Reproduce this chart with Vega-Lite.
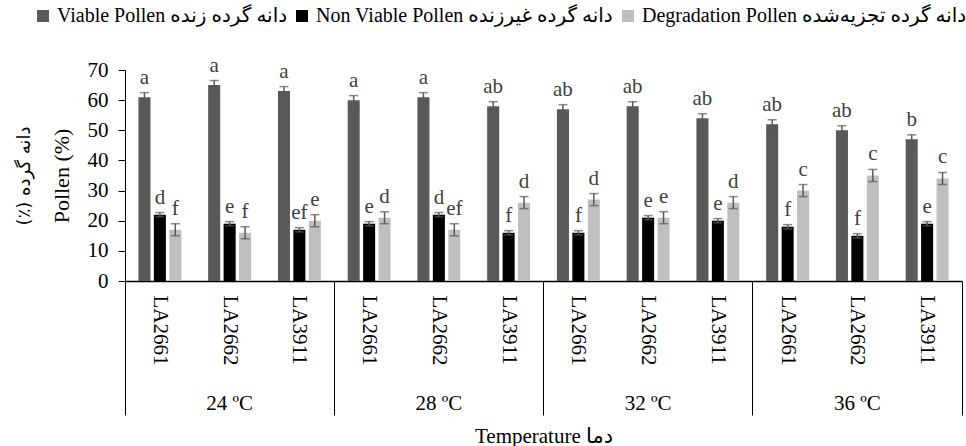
{
  "$schema": "https://vega.github.io/schema/vega-lite/v6.json",
  "width": 837,
  "height": 211,
  "autosize": {"type": "none"},
  "padding": {"left": 125, "top": 70, "right": 4, "bottom": 165},
  "background": "white",
  "config": {
    "view": {"stroke": null},
    "font": "Liberation Serif",
    "axis": {"labelFont": "Liberation Serif", "titleFont": "Liberation Serif", "labelColor": "#000", "titleColor": "#000", "titleFontWeight": "normal", "grid": false},
    "legend": {"labelFont": "Liberation Serif, DejaVu Sans", "labelColor": "#000"}
  },
  "data": {"values": [
    {"cell": "24 ºC|LA2661", "series": "Viable Pollen دانه گرده زنده", "value": 61, "lo": 59.5, "hi": 62.5, "letter": "a"},
    {"cell": "24 ºC|LA2661", "series": "Non Viable Pollen دانه گرده غیرزنده", "value": 22, "lo": 21.3, "hi": 22.7, "letter": "d"},
    {"cell": "24 ºC|LA2661", "series": "Degradation Pollen دانه گرده تجزیه‌شده", "value": 17, "lo": 15, "hi": 19, "letter": "f"},
    {"cell": "24 ºC|LA2662", "series": "Viable Pollen دانه گرده زنده", "value": 65, "lo": 63.5, "hi": 66.5, "letter": "a"},
    {"cell": "24 ºC|LA2662", "series": "Non Viable Pollen دانه گرده غیرزنده", "value": 19, "lo": 18.3, "hi": 19.7, "letter": "e"},
    {"cell": "24 ºC|LA2662", "series": "Degradation Pollen دانه گرده تجزیه‌شده", "value": 16, "lo": 14, "hi": 18, "letter": "f"},
    {"cell": "24 ºC|LA3911", "series": "Viable Pollen دانه گرده زنده", "value": 63, "lo": 61.5, "hi": 64.5, "letter": "a"},
    {"cell": "24 ºC|LA3911", "series": "Non Viable Pollen دانه گرده غیرزنده", "value": 17, "lo": 16.3, "hi": 17.7, "letter": "ef"},
    {"cell": "24 ºC|LA3911", "series": "Degradation Pollen دانه گرده تجزیه‌شده", "value": 20, "lo": 18, "hi": 22, "letter": "e"},
    {"cell": "28 ºC|LA2661", "series": "Viable Pollen دانه گرده زنده", "value": 60, "lo": 58.5, "hi": 61.5, "letter": "a"},
    {"cell": "28 ºC|LA2661", "series": "Non Viable Pollen دانه گرده غیرزنده", "value": 19, "lo": 18.3, "hi": 19.7, "letter": "e"},
    {"cell": "28 ºC|LA2661", "series": "Degradation Pollen دانه گرده تجزیه‌شده", "value": 21, "lo": 19, "hi": 23, "letter": "d"},
    {"cell": "28 ºC|LA2662", "series": "Viable Pollen دانه گرده زنده", "value": 61, "lo": 59.5, "hi": 62.5, "letter": "a"},
    {"cell": "28 ºC|LA2662", "series": "Non Viable Pollen دانه گرده غیرزنده", "value": 22, "lo": 21.3, "hi": 22.7, "letter": "d"},
    {"cell": "28 ºC|LA2662", "series": "Degradation Pollen دانه گرده تجزیه‌شده", "value": 17, "lo": 15, "hi": 19, "letter": "ef"},
    {"cell": "28 ºC|LA3911", "series": "Viable Pollen دانه گرده زنده", "value": 58, "lo": 56.5, "hi": 59.5, "letter": "ab"},
    {"cell": "28 ºC|LA3911", "series": "Non Viable Pollen دانه گرده غیرزنده", "value": 16, "lo": 15.3, "hi": 16.7, "letter": "f"},
    {"cell": "28 ºC|LA3911", "series": "Degradation Pollen دانه گرده تجزیه‌شده", "value": 26, "lo": 24, "hi": 28, "letter": "d"},
    {"cell": "32 ºC|LA2661", "series": "Viable Pollen دانه گرده زنده", "value": 57, "lo": 55.5, "hi": 58.5, "letter": "ab"},
    {"cell": "32 ºC|LA2661", "series": "Non Viable Pollen دانه گرده غیرزنده", "value": 16, "lo": 15.3, "hi": 16.7, "letter": "f"},
    {"cell": "32 ºC|LA2661", "series": "Degradation Pollen دانه گرده تجزیه‌شده", "value": 27, "lo": 25, "hi": 29, "letter": "d"},
    {"cell": "32 ºC|LA2662", "series": "Viable Pollen دانه گرده زنده", "value": 58, "lo": 56.5, "hi": 59.5, "letter": "ab"},
    {"cell": "32 ºC|LA2662", "series": "Non Viable Pollen دانه گرده غیرزنده", "value": 21, "lo": 20.3, "hi": 21.7, "letter": "e"},
    {"cell": "32 ºC|LA2662", "series": "Degradation Pollen دانه گرده تجزیه‌شده", "value": 21, "lo": 19, "hi": 23, "letter": "e"},
    {"cell": "32 ºC|LA3911", "series": "Viable Pollen دانه گرده زنده", "value": 54, "lo": 52.5, "hi": 55.5, "letter": "ab"},
    {"cell": "32 ºC|LA3911", "series": "Non Viable Pollen دانه گرده غیرزنده", "value": 20, "lo": 19.3, "hi": 20.7, "letter": "e"},
    {"cell": "32 ºC|LA3911", "series": "Degradation Pollen دانه گرده تجزیه‌شده", "value": 26, "lo": 24, "hi": 28, "letter": "d"},
    {"cell": "36 ºC|LA2661", "series": "Viable Pollen دانه گرده زنده", "value": 52, "lo": 50.5, "hi": 53.5, "letter": "ab"},
    {"cell": "36 ºC|LA2661", "series": "Non Viable Pollen دانه گرده غیرزنده", "value": 18, "lo": 17.3, "hi": 18.7, "letter": "f"},
    {"cell": "36 ºC|LA2661", "series": "Degradation Pollen دانه گرده تجزیه‌شده", "value": 30, "lo": 28, "hi": 32, "letter": "c"},
    {"cell": "36 ºC|LA2662", "series": "Viable Pollen دانه گرده زنده", "value": 50, "lo": 48.5, "hi": 51.5, "letter": "ab"},
    {"cell": "36 ºC|LA2662", "series": "Non Viable Pollen دانه گرده غیرزنده", "value": 15, "lo": 14.3, "hi": 15.7, "letter": "f"},
    {"cell": "36 ºC|LA2662", "series": "Degradation Pollen دانه گرده تجزیه‌شده", "value": 35, "lo": 33, "hi": 37, "letter": "c"},
    {"cell": "36 ºC|LA3911", "series": "Viable Pollen دانه گرده زنده", "value": 47, "lo": 45.5, "hi": 48.5, "letter": "b"},
    {"cell": "36 ºC|LA3911", "series": "Non Viable Pollen دانه گرده غیرزنده", "value": 19, "lo": 18.3, "hi": 19.7, "letter": "e"},
    {"cell": "36 ºC|LA3911", "series": "Degradation Pollen دانه گرده تجزیه‌شده", "value": 34, "lo": 32, "hi": 36, "letter": "c"}
  ]},
  "layer": [
    {
      "mark": {"type": "bar"},
      "encoding": {
        "x": {"field": "cell", "type": "nominal", "sort": null, "scale": {"paddingInner": 0, "paddingOuter": 0},
          "axis": {"orient": "bottom", "title": null, "labelExpr": "split(datum.value,'|')[1]", "labelFont": "Liberation Serif", "labelAngle": 90, "labelAlign": "left", "labelBaseline": "middle", "labelPadding": 14, "labelFontSize": 21, "ticks": false, "domainColor": "#000", "domainWidth": 1.5}},
        "xOffset": {"field": "series", "type": "nominal", "sort": ["Viable Pollen دانه گرده زنده", "Non Viable Pollen دانه گرده غیرزنده", "Degradation Pollen دانه گرده تجزیه‌شده"], "scale": {"paddingInner": 0.22, "paddingOuter": 0.87}},
        "y": {"field": "value", "type": "quantitative", "scale": {"domain": [0, 70]},
          "axis": {"orient": "left", "values": [0, 10, 20, 30, 40, 50, 60, 70], "title": "Pollen (%)", "titleFont": "Liberation Serif", "labelFont": "Liberation Serif", "titleFontSize": 22, "labelFontSize": 21, "tickSize": 7, "tickColor": "#000", "domainColor": "#000", "labelPadding": 10, "titlePadding": 14}},
        "color": {"field": "series", "type": "nominal",
          "scale": {"domain": ["Viable Pollen دانه گرده زنده", "Non Viable Pollen دانه گرده غیرزنده", "Degradation Pollen دانه گرده تجزیه‌شده"], "range": ["#595959", "#000000", "#bfbfbf"]},
          "legend": {"orient": "none", "legendX": -92, "legendY": -64, "direction": "horizontal", "title": null, "symbolType": "square", "symbolSize": 144, "symbolStrokeWidth": 0, "labelFont": "Liberation Serif, DejaVu Sans", "labelFontSize": 20, "labelOffset": 4, "columnPadding": 4, "labelLimit": 500, "padding": 0}}
      }
    },
    {
      "mark": {"type": "rule", "color": "#595959", "strokeWidth": 1.5},
      "encoding": {
        "x": {"field": "cell", "type": "nominal", "sort": null,
          "axis": {"orient": "bottom", "values": ["24 ºC|LA2662", "28 ºC|LA2662", "32 ºC|LA2662", "36 ºC|LA2662"], "labelExpr": "split(datum.value,'|')[0]", "labelFont": "Liberation Serif", "titleFont": "Liberation Serif, DejaVu Sans", "labelAngle": 0, "labelAlign": "center", "labelBaseline": "top", "labelPadding": 111, "labelFontSize": 21, "ticks": false, "domain": false, "title": "Temperature دما", "titleFontSize": 21, "titlePadding": 12}},
        "xOffset": {"field": "series", "type": "nominal", "sort": ["Viable Pollen دانه گرده زنده", "Non Viable Pollen دانه گرده غیرزنده", "Degradation Pollen دانه گرده تجزیه‌شده"]},
        "y": {"field": "lo", "type": "quantitative",
          "axis": {"orient": "left", "title": "(٪) دانه گرده", "titleFont": "DejaVu Sans", "titleFontSize": 18, "labels": false, "ticks": false, "domain": false, "titlePadding": 92}},
        "y2": {"field": "hi"}
      }
    },
    {
      "mark": {"type": "tick", "color": "#595959", "thickness": 1.5, "size": 9},
      "encoding": {
        "x": {"field": "cell", "type": "nominal", "sort": null,
          "axis": {"orient": "bottom", "values": ["24 ºC|LA2661", "28 ºC|LA2661", "32 ºC|LA2661", "36 ºC|LA2661"], "bandPosition": 0, "labels": false, "domain": false, "ticks": true, "tickSize": 134, "tickColor": "#000", "tickWidth": 1, "title": null}},
        "xOffset": {"field": "series", "type": "nominal", "sort": ["Viable Pollen دانه گرده زنده", "Non Viable Pollen دانه گرده غیرزنده", "Degradation Pollen دانه گرده تجزیه‌شده"]},
        "y": {"field": "lo", "type": "quantitative", "axis": null}
      }
    },
    {
      "mark": {"type": "tick", "color": "#595959", "thickness": 1.5, "size": 9},
      "encoding": {
        "x": {"field": "cell", "type": "nominal", "sort": null,
          "axis": {"orient": "bottom", "values": ["36 ºC|LA3911"], "bandPosition": 1, "labels": false, "domain": false, "ticks": true, "tickSize": 134, "tickColor": "#000", "tickWidth": 1, "title": null}},
        "xOffset": {"field": "series", "type": "nominal", "sort": ["Viable Pollen دانه گرده زنده", "Non Viable Pollen دانه گرده غیرزنده", "Degradation Pollen دانه گرده تجزیه‌شده"]},
        "y": {"field": "hi", "type": "quantitative", "axis": null}
      }
    },
    {
      "mark": {"type": "text", "dy": -9, "baseline": "alphabetic", "fontSize": 21, "font": "Liberation Serif", "color": "#404040"},
      "encoding": {
        "x": {"field": "cell", "type": "nominal", "sort": null, "axis": null},
        "xOffset": {"field": "series", "type": "nominal", "sort": ["Viable Pollen دانه گرده زنده", "Non Viable Pollen دانه گرده غیرزنده", "Degradation Pollen دانه گرده تجزیه‌شده"]},
        "y": {"field": "hi", "type": "quantitative", "axis": null},
        "text": {"field": "letter"}
      }
    }
  ],
  "resolve": {"axis": {"x": "independent", "y": "independent"}}
}
